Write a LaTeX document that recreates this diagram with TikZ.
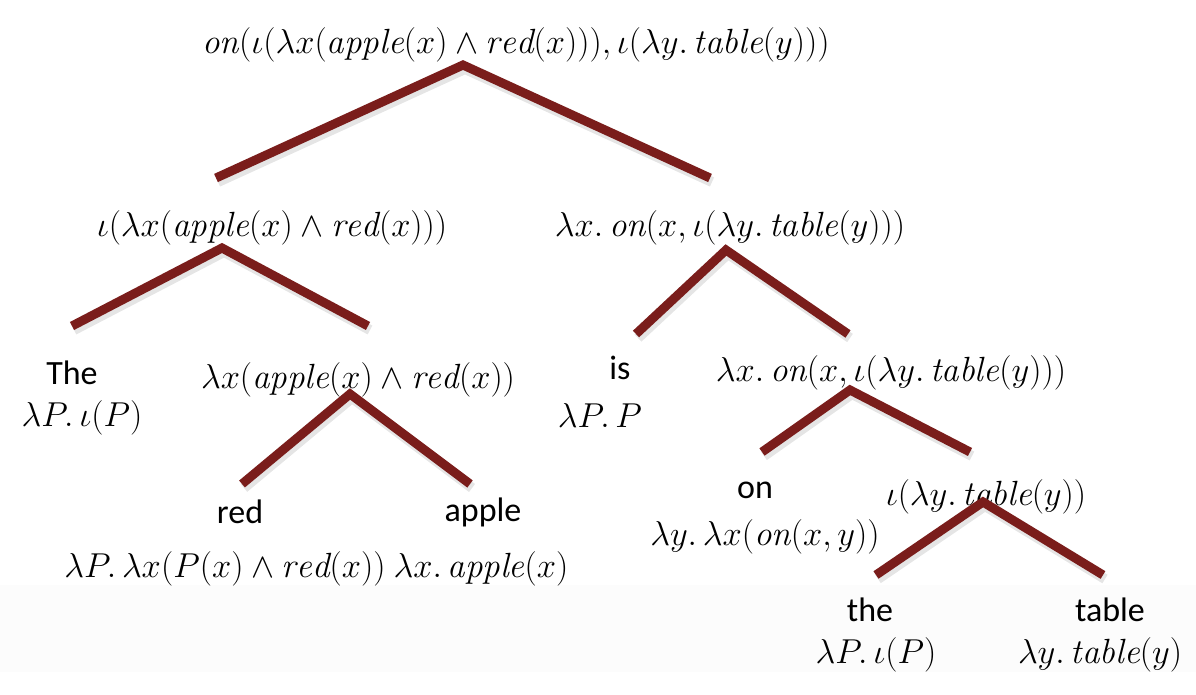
\documentclass[tikz,border=0pt]{standalone}
\usepackage{fontspec}
\newfontfamily\wordfont{Carlito}
\usetikzlibrary{positioning}
\definecolor{branchred}{RGB}{122,29,27}

\begin{document}
\begin{tikzpicture}[
  x=0.5pt,
  y=-0.5pt,
  word/.style={
    inner sep=0pt,
    font=\wordfont\fontsize{17}{20}\selectfont,
  },
  sem/.style={
    inner sep=0pt,
    font=\fontsize{17.5}{20}\selectfont,
  },
  branch/.style={
    draw=branchred,
    line width=4.5pt,
    line join=miter,
  },
  shade/.style={
    draw=black!10,
    line width=5pt,
    line join=miter,
  },
]

\useasboundingbox (0,0) rectangle (1196,695);
\fill[black!1] (0,585) rectangle (1196,672);

% Root
\node[sem] (root) at (516,45) {$\mathit{on}(\iota(\lambda x(\mathit{apple}(x)\wedge\mathit{red}(x))),\iota(\lambda y.\,\mathit{table}(y)))$};

% Level 1
\node[sem] (np) at (272,228) {$\iota(\lambda x(\mathit{apple}(x)\wedge\mathit{red}(x)))$};
\node[sem] (vp) at (730,228) {$\lambda x.\,\mathit{on}(x,\iota(\lambda y.\,\mathit{table}(y)))$};

% Level 2
\node[word] (the1) at (72,373) {The};
\node[sem] (the1sem) at (82,418) {$\lambda P.\,\iota(P)$};
\node[sem] (nbar) at (358,380) {$\lambda x(\mathit{apple}(x)\wedge\mathit{red}(x))$};
\node[word] (is) at (620,368) {is};
\node[sem] (issem) at (600,416) {$\lambda P.\,P$};
\node[sem] (pp) at (891,373) {$\lambda x.\,\mathit{on}(x,\iota(\lambda y.\,\mathit{table}(y)))$};

% Level 3
\node[word] (red) at (240,512) {red};
\node[sem] (redsem) at (225,569) {$\lambda P.\,\lambda x(P(x)\wedge\mathit{red}(x))$};
\node[word] (apple) at (483,512) {apple};
\node[sem] (applesem) at (481,569) {$\lambda x.\,\mathit{apple}(x)$};
\node[word] (on) at (755,490) {on};
\node[sem] (onsem) at (765,537) {$\lambda y.\,\lambda x(\mathit{on}(x,y))$};
\node[sem] (dp) at (986,497) {$\iota(\lambda y.\,\mathit{table}(y))$};

% Level 4
\node[word] (the2) at (870,610) {the};
\node[sem] (the2sem) at (876,655) {$\lambda P.\,\iota(P)$};
\node[word] (table) at (1110,610) {table};
\node[sem] (tablesem) at (1100,655) {$\lambda y.\,\mathit{table}(y)$};

% Branch points
\coordinate (rootapex) at (463,65);
\coordinate (rootl) at (216,178);
\coordinate (rootr) at (710,178);
\coordinate (npapex) at (222,248);
\coordinate (npl) at (72,326);
\coordinate (npr) at (368,326);
\coordinate (vpapex) at (726,250);
\coordinate (vpl) at (636,334);
\coordinate (vpr) at (848,334);
\coordinate (nbarapex) at (350,394);
\coordinate (nbarl) at (242,484);
\coordinate (nbarr) at (470,484);
\coordinate (ppapex) at (850,390);
\coordinate (ppl) at (762,452);
\coordinate (ppr) at (970,452);
\coordinate (dpapex) at (983,502);
\coordinate (dpl) at (876,575);
\coordinate (dpr) at (1103,575);

% Shadows
\foreach \p in {root,np,vp,nbar,pp,dp}
  \draw[shade] ([shift={(2,4)}]\p l) -- ([shift={(2,4)}]\p apex) -- ([shift={(2,4)}]\p r);

% Branches
\foreach \p in {root,np,vp,nbar,pp,dp}
  \draw[branch] (\p l) -- (\p apex) -- (\p r);

\end{tikzpicture}
\end{document}
